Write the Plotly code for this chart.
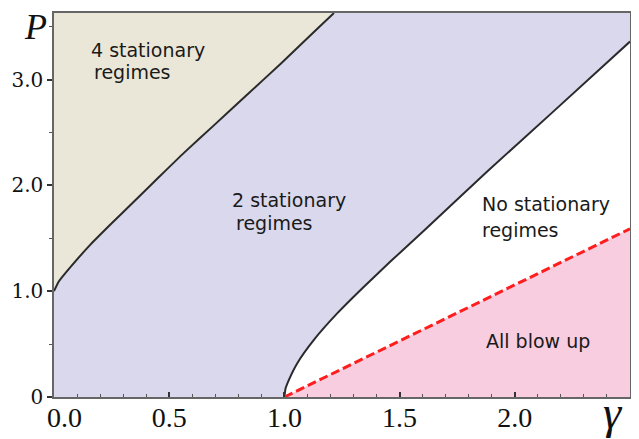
import plotly.graph_objects as go

# ---- data ----
upper_gamma = [0.0, 0.02, 0.074, 0.160, 0.247, 0.334, 0.449, 0.565, 0.695, 0.839, 0.984, 1.128, 1.215]
upper_P     = [1.0, 1.09, 1.235, 1.445, 1.635, 1.82, 2.065, 2.31, 2.57, 2.86, 3.15, 3.45, 3.63]

lower_gamma = [1.0, 1.005, 1.02, 1.056, 1.128, 1.229, 1.344, 1.46, 1.604, 1.879, 2.168, 2.5]
lower_P     = [0.0, 0.08, 0.165, 0.32, 0.54, 0.79, 1.04, 1.28, 1.57, 2.13, 2.70, 3.36]

blow_gamma = [1.0, 2.5]
blow_P     = [0.0, 1.59]

x_tick_vals = [0.0, 0.5, 1.0, 1.5, 2.0]
x_tick_text = ["0.0", "0.5", "1.0", "1.5", "2.0"]
y_tick_vals = [0, 1, 2, 3]
y_tick_text = ["0", "1.0", "2.0", "3.0"]

X_MIN, X_MAX = 0.0, 2.5
Y_MIN, Y_MAX = 0.0, 3.63

TAN = "#EAE7D8"
LAV = "#D9D8EC"
PINK = "#F8CDE0"
CURVE = "#2a2a2a"

fig = go.Figure()

# region above upper curve (4 stationary regimes)
fig.add_trace(go.Scatter(
    x=upper_gamma + [X_MIN], y=upper_P + [Y_MAX],
    fill="toself", fillcolor=TAN, line=dict(width=0), mode="lines",
    hoverinfo="skip", showlegend=False))

# region below lower curve (no stationary regimes) - white
fig.add_trace(go.Scatter(
    x=lower_gamma + [X_MAX], y=lower_P + [Y_MIN],
    fill="toself", fillcolor="white", line=dict(width=0), mode="lines",
    hoverinfo="skip", showlegend=False))

# region below dashed line (all blow up)
fig.add_trace(go.Scatter(
    x=blow_gamma + [X_MAX], y=blow_P + [Y_MIN],
    fill="toself", fillcolor=PINK, line=dict(width=0), mode="lines",
    hoverinfo="skip", showlegend=False))

# boundary curves
fig.add_trace(go.Scatter(x=upper_gamma, y=upper_P, mode="lines",
                         line=dict(color=CURVE, width=2, shape="spline", smoothing=0.5),
                         showlegend=False, hoverinfo="skip"))
fig.add_trace(go.Scatter(x=lower_gamma, y=lower_P, mode="lines",
                         line=dict(color=CURVE, width=2, shape="spline", smoothing=0.5),
                         showlegend=False, hoverinfo="skip"))
fig.add_trace(go.Scatter(x=blow_gamma, y=blow_P, mode="lines",
                         line=dict(color="#FF1E1E", width=3, dash="9px,4px"),
                         showlegend=False, hoverinfo="skip"))

label_font = dict(family="DejaVu Sans", size=19, color="#1a1a1a")
labels = [
    ("4 stationary", 0.150, 3.28),
    ("regimes", 0.167, 3.07),
    ("2 stationary", 0.766, 1.866),
    ("regimes", 0.781, 1.645),
    ("No stationary", 1.850, 1.824),
    ("regimes", 1.850, 1.579),
    ("All blow up", 1.865, 0.525),
]
for txt, gx, py in labels:
    fig.add_annotation(x=gx, y=py, xref="x", yref="y", text=txt, showarrow=False,
                       xanchor="left", yanchor="middle", font=label_font)

fig.add_annotation(x=-0.0329, y=0.9637, xref="paper", yref="paper", text="<i>P</i>",
                   showarrow=False, xanchor="center", yanchor="middle",
                   font=dict(family="Liberation Serif", size=36, color="#111"))
fig.add_annotation(x=0.9705, y=-0.0402, xref="paper", yref="paper", text="<i>γ</i>",
                   showarrow=False, xanchor="center", yanchor="middle",
                   font=dict(family="Liberation Serif", size=46, color="#111"))

xtick_font = dict(family="Liberation Serif", size=28, color="#111")
# first x tick label is nudged right (as in the reference) to clear the y-axis "0"
fig.add_annotation(x=x_tick_vals[0], y=0, xref="x", yref="paper", text=x_tick_text[0],
                   showarrow=False, xanchor="center", yanchor="top",
                   xshift=10, yshift=-3, font=xtick_font)

# page body has an 8px default margin, so margins are offset accordingly
fig.update_layout(
    width=639, height=439,
    margin=dict(l=45, r=17, t=3, b=50),
    paper_bgcolor="white", plot_bgcolor=LAV,
    showlegend=False,
)
fig.update_xaxes(
    range=[X_MIN, X_MAX], showgrid=False, zeroline=False,
    tickmode="array", tickvals=x_tick_vals, ticktext=[""] + x_tick_text[1:],
    ticks="inside", ticklen=5, tickwidth=1.5, tickcolor="#333",
    tickfont=xtick_font,
    ticklabelstandoff=-5,
    showline=True, linecolor="#666", linewidth=1.5, mirror=True,
    minor=dict(tickmode="linear", tick0=0, dtick=0.1, ticks="inside", ticklen=3,
               tickcolor="#555", tickwidth=1),
)
fig.update_yaxes(
    range=[Y_MIN, Y_MAX], showgrid=False, zeroline=False,
    tickmode="array", tickvals=y_tick_vals, ticktext=y_tick_text,
    ticks="outside", ticklen=5, tickwidth=1.5, tickcolor="#333",
    tickfont=dict(family="DejaVu Serif", size=20, color="#111"),
    showline=True, linecolor="#666", linewidth=1.5, mirror=True,
    minor=dict(tickmode="linear", tick0=0, dtick=0.5, ticks="outside", ticklen=3,
               tickcolor="#555", tickwidth=1),
)

fig.write_html("out.html")
